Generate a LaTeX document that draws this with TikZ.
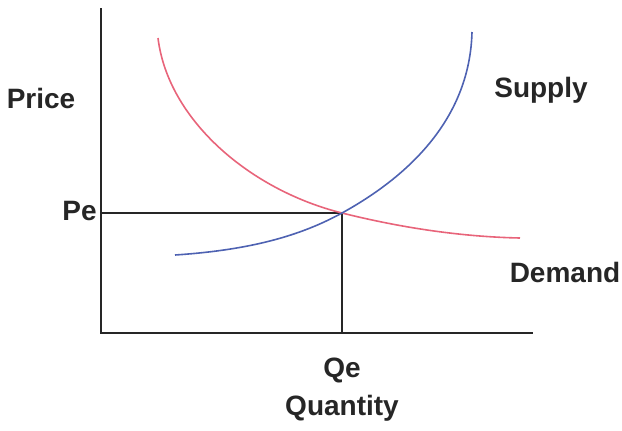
\documentclass[tikz,border=0pt]{standalone}
\usepackage{fontspec}
\setmainfont{Liberation Sans}
\definecolor{demandred}{RGB}{232,100,122}
\definecolor{supplyblue}{RGB}{78,98,178}
\tikzset{
  lbl/.style={font=\fontsize{14}{16}\selectfont\bfseries, text=black!85, inner sep=0pt},
  axis/.style={draw=black!85, line width=0.9pt},
  guide/.style={draw=black!85, line width=0.8pt}
}
\begin{document}
\begin{tikzpicture}[x=0.5pt,y=-0.5pt]
    \useasboundingbox (0,0) rectangle (622,430);

    % Sumbu
    \coordinate (top) at (101,8);
    \coordinate (origin) at (101,333);
    \coordinate (right) at (533,333);
    \draw[axis] (top) -- (origin) -- (right);

    % Titik keseimbangan
    \coordinate (eq) at (342,213);
    \coordinate (eqx) at (342,333);
    \coordinate (eqy) at (101,213);
    \draw[guide] (eqy) -- (eq) -- (eqx);

    % Kurva permintaan
    \draw[demandred, line width=0.8pt] (158,38) .. controls (168,120) and (250,190) .. (eq)
        .. controls (410,230) and (470,237) .. (520,238);

    % Kurva penawaran
    \draw[supplyblue, line width=0.8pt] (175,255) .. controls (250,250) and (300,236) .. (eq)
        .. controls (420,170) and (470,110) .. (472,32);

    % Label
    \node[lbl] (price) at (41,98) {Price};
    \node[lbl, anchor=east] (pe) at (97,211) {Pe};
    \node[lbl] (supply) at (541,90) {Supply};
    \node[lbl] (demand) at (565,272) {Demand};
    \node[lbl] (qe) at (342,370) {Qe};
    \node[lbl] (quantity) at (342,408) {Quantity};

\end{tikzpicture}
\end{document}
